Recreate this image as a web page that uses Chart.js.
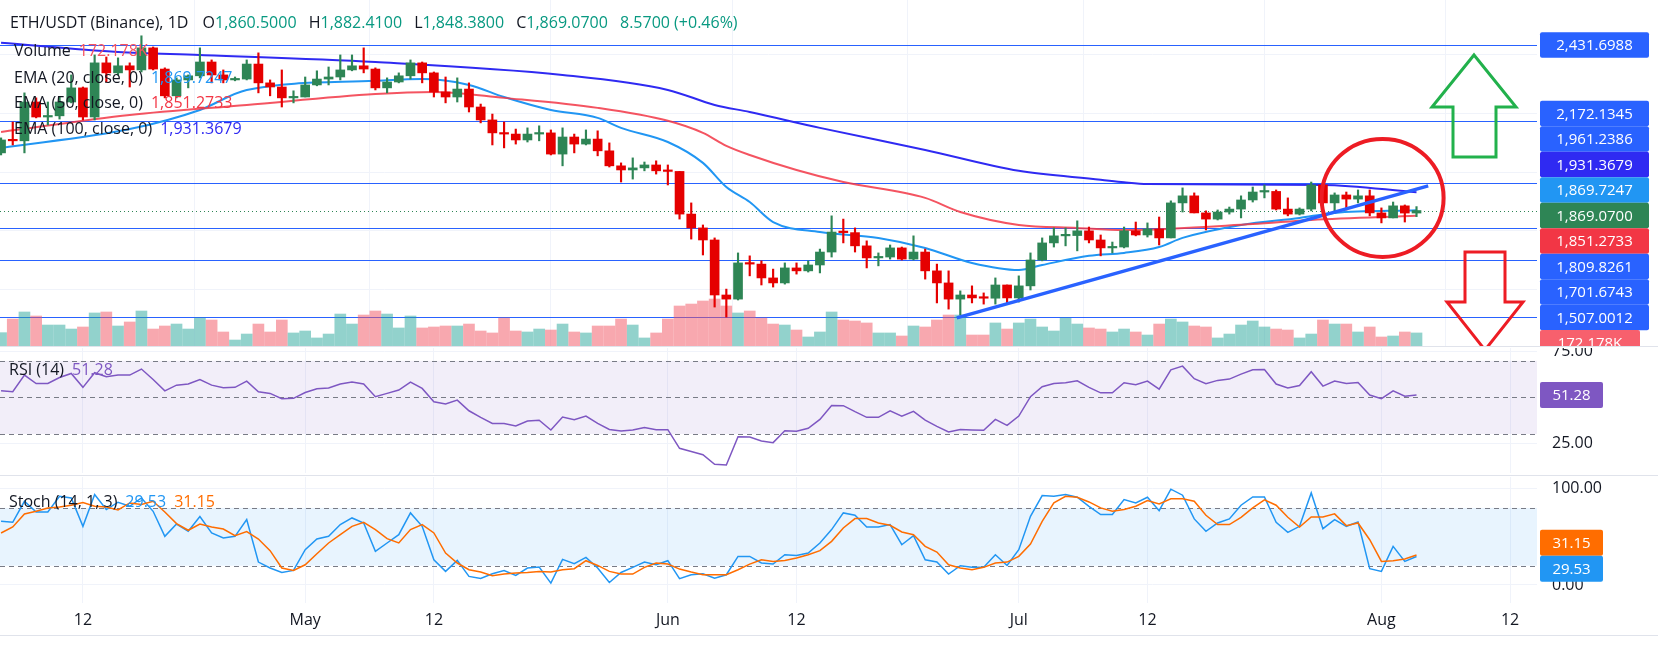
<!DOCTYPE html>
<html>
<head>
<meta charset="utf-8">
<script src="https://cdn.jsdelivr.net/npm/chart.js@4.4.0/dist/chart.umd.min.js"></script>
<style>
  body { margin: 0; background: #fff; }
  #wrap { position: relative; width: 1658px; height: 646px; overflow: hidden; font-family: 'Open Sans', sans-serif; }
  .pane { position: absolute; left: 0; width: 1658px; }
  .lg { position: absolute; left: 14px; font-size: 16px; line-height: 20px; color: #131722; white-space: nowrap; }
  .lg span { margin-left: 8px; }
  .sep { position: absolute; left: 0; width: 1658px; height: 1px; background: #e0e3eb; }
</style>
</head>
<body>
<div id="wrap">
  <div class="pane" style="top:0;height:346px"><canvas id="cPrice"></canvas></div>
  <div class="pane" style="top:348px;height:125px"><canvas id="cRsi"></canvas></div>
  <div class="pane" style="top:477px;height:169px"><canvas id="cStoch"></canvas></div>
  <div class="sep" style="top:346px"></div>
  <div class="sep" style="top:475px"></div>
  <div class="sep" style="top:635px"></div>

  <div class="lg" style="top:12px;left:10px">ETH/USDT (Binance), 1D
    <span style="margin-left:10px">O<b style="font-weight:normal;color:#089981">1,860.5000</b></span>
    <span>H<b style="font-weight:normal;color:#089981">1,882.4100</b></span>
    <span>L<b style="font-weight:normal;color:#089981">1,848.3800</b></span>
    <span>C<b style="font-weight:normal;color:#089981">1,869.0700</b></span>
    <span style="color:#089981">8.5700 (+0.46%)</span></div>
  <div class="lg" style="top:40px">Volume<span style="color:#f7525f">172.178K</span></div>
  <div class="lg" style="top:67px">EMA (20, close, 0)<span style="color:#2196f3">1,869.7247</span></div>
  <div class="lg" style="top:92px">EMA (50, close, 0)<span style="color:#f23645">1,851.2733</span></div>
  <div class="lg" style="top:118px">EMA (100, close, 0)<span style="color:#2f2af2">1,931.3679</span></div>
  <div class="lg" style="top:359px;left:9px">RSI (14)<span style="color:#7e57c2">51.28</span></div>
  <div class="lg" style="top:491px;left:9px">Stoch (14, 1, 3)<span style="color:#2196f3">29.53</span><span style="color:#ff6d00">31.15</span></div>
</div>
<script>
// ── data: day 0 = Apr 5, daily candles to Aug 4 ─────────────
const tickDays   = [7, 26, 37, 57, 68, 87, 98, 118, 129];
const tickLabels = ['12', 'May', '12', 'Jun', '12', 'Jul', '12', 'Aug', '12'];

const opens = [2065,2109,2106,2238,2187,2191,2238,2286,2187,2371,
  2337,2361,2347,2422,2350,2259,2313,2327,2374,2330,
  2313,2316,2367,2303,2289,2252,2255,2296,2316,2323,
  2347,2361,2350,2286,2306,2327,2371,2337,2272,2255,
  2282,2221,2177,2133,2129,2109,2129,2133,2061,2119,
  2095,2112,2072,2021,2007,2014,2024,2004,2002,1857,
  1810,1769,1582,1568,1691,1687,1640,1623,1674,1664,
  1684,1728,1796,1794,1749,1708,1711,1742,1704,1728,
  1664,1623,1568,1582,1572,1571,1616,1572,1613,1701,
  1759,1783,1784,1800,1769,1742,1745,1800,1786,1806,
  1776,1895,1919,1861,1840,1864,1874,1905,1932,1934,
  1874,1857,1874,1956,1895,1922,1908,1919,1861,1844,
  1885,1860.5];
const highs = [2116,2170,2269,2252,2238,2255,2330,2289,2398,2391,
  2388,2371,2463,2425,2354,2320,2330,2422,2381,2347,
  2323,2381,2405,2313,2347,2276,2323,2344,2357,2398,
  2398,2422,2354,2320,2337,2381,2374,2340,2323,2320,
  2303,2231,2197,2170,2146,2150,2157,2143,2150,2129,
  2143,2140,2099,2031,2048,2034,2038,2024,2002,1895,
  1820,1776,1602,1725,1715,1698,1670,1691,1691,1698,
  1738,1851,1840,1810,1766,1725,1752,1745,1783,1738,
  1687,1664,1596,1613,1589,1640,1616,1647,1725,1776,
  1810,1810,1834,1813,1786,1762,1813,1830,1827,1847,
  1902,1946,1929,1868,1871,1881,1919,1949,1956,1939,
  1912,1878,1966,1963,1929,1932,1939,1939,1878,1898,
  1888,1882.41];
const lows = [2058,2092,2065,2184,2160,2180,2235,2177,2177,2306,
  2330,2289,2340,2347,2252,2252,2286,2320,2303,2303,
  2310,2313,2269,2259,2221,2235,2255,2293,2296,2313,
  2344,2337,2279,2269,2303,2316,2303,2255,2235,2238,
  2204,2167,2092,2082,2095,2102,2106,2058,2021,2065,
  2092,2055,2017,1966,1976,2004,1993,1956,1840,1772,
  1718,1541,1507,1565,1647,1616,1609,1619,1653,1660,
  1657,1711,1759,1728,1674,1681,1704,1701,1701,1636,
  1555,1534,1514,1555,1551,1551,1551,1558,1599,1698,
  1745,1749,1732,1759,1715,1725,1742,1783,1779,1752,
  1776,1864,1861,1803,1837,1857,1844,1898,1912,1871,
  1851,1854,1868,1888,1861,1871,1895,1851,1827,1844,
  1830,1848.38];
const closes = [2109,2106,2238,2187,2191,2238,2286,2187,2371,2337,
  2361,2347,2422,2350,2259,2313,2327,2374,2330,2313,
  2316,2367,2303,2289,2252,2255,2296,2316,2323,2347,
  2361,2350,2286,2306,2327,2371,2337,2272,2255,2282,
  2221,2177,2133,2129,2109,2129,2133,2061,2119,2095,
  2112,2072,2021,2007,2014,2024,2004,2002,1857,1810,
  1769,1582,1568,1691,1687,1640,1623,1674,1664,1684,
  1728,1796,1794,1749,1708,1711,1742,1704,1728,1664,
  1623,1568,1582,1572,1571,1616,1572,1613,1701,1759,
  1783,1784,1800,1769,1742,1745,1800,1786,1806,1776,
  1895,1919,1861,1840,1864,1874,1905,1932,1934,1874,
  1857,1874,1956,1895,1922,1908,1919,1861,1844,1885,
  1860.5,1869.07];
// volume in thousands
const volume = [176,356,449,396,277,277,224,251,436,449,
  264,317,462,224,264,290,224,370,343,185,
  79,158,290,185,343,172,198,106,158,422,
  290,409,462,422,238,396,238,251,264,264,
  290,198,172,370,198,185,224,211,290,185,
  172,264,264,356,277,106,172,356,528,554,
  594,620,528,436,462,370,290,277,211,119,
  185,449,343,330,304,172,172,132,264,251,
  343,409,409,145,145,304,224,304,356,251,
  198,370,290,238,224,185,224,185,145,290,
  356,317,264,251,106,158,277,330,251,224,
  211,106,158,343,290,290,185,251,119,132,
  185,172.178];

// EMAs read at sparse days
const ema20Days = [0,11,17,21,32,36,40,43,47,51,53,57,60,62,64,66,70,75,79,83,87,89,93,96,99,101,106,111,114,121];
const ema20 = [2082,2146,2211,2279,2310,2316,2296,2255,2211,2184,2150,2102,2031,1949,1898,1830,1796,1776,1742,1691,1667,1684,1715,1725,1745,1776,1820,1844,1861,1869.7247];
const ema50Days = [0,11,21,32,37,43,51,57,60,62,64,68,72,79,82,87,92,96,107,112,121];
const ema50 = [2136,2194,2228,2265,2272,2252,2218,2174,2133,2089,2058,2007,1966,1912,1864,1820,1810,1803,1823,1837,1851.2733];
const ema100Days = [0,10,17,32,48,57,61,64,70,79,87,94,96,98,113,121];
const ema100 = [2439,2408,2398,2374,2330,2279,2228,2204,2150,2075,2004,1974,1965,1959,1956,1931.3679];

const trendDays = [81.7, 122];
const trendVals = [1504, 1953];
const levels = [2431.6988, 2172.1345, 1961.2386, 1809.8261, 1701.6743, 1507.0012];
const lastPrice = 1869.07;

const rsi = [53.6,53.1,62.2,57.6,57.6,60.9,63.1,55.5,63.5,61.3,
  62.2,62.2,65.5,59.8,53.6,56.7,57.3,59.8,56.7,55.3,
  55.5,58.9,53.1,52.2,49.3,49.5,52.7,54.7,55.1,57.3,
  58.4,57.3,50.4,52.2,54,58.4,54.9,47.6,46.4,48.5,
  42.7,39.1,35.8,35.8,34.4,37.1,37.5,32.2,39.3,37.8,
  39.8,35.8,32.5,31.6,32.2,33.6,32.4,32.4,22.2,20.4,
  18.7,13.5,13.1,28.5,28.4,26.2,25.3,31.8,31.5,33.1,
  38,45.6,45.5,42.2,39.1,39.1,42.7,39.8,42.4,37.6,
  34.2,31.1,32.5,32.2,32,38,34.7,39.8,50.4,55.8,
  57.6,58,59.1,55.5,52.5,52.5,58,56.9,58.9,54.5,
  65.1,67.1,60.2,57.5,59.3,60,62.7,65.1,65.3,57.3,
  55.1,56.5,64,56.2,58.9,57.6,58.2,51.3,49.3,53.6,
  50.7,51.28];
const stochK = [66.1,65.1,86.9,75.8,75.8,92.1,90.4,60.9,93.9,78.3,
  85.9,81.7,90.4,76.5,50.5,63.3,55.7,71,54,48.8,
  50.5,67.9,23.8,17.6,13,15.1,36.6,47.7,50.5,62.7,
  69.6,64.4,34.9,43.6,52.2,74.8,60.9,26.2,14.1,25.5,
  8.9,6.8,11.7,15.1,9.9,17.6,18.6,1.9,26.6,22.1,
  28.7,17.6,2.6,13,18.3,23.8,21,25.2,6.5,10.6,
  11.7,7.1,10.6,29.7,29.7,22.8,21.7,31.4,30.7,33.2,
  43.6,57.5,74.8,72.4,60.2,60.2,62.7,41.8,51.2,26.2,
  23.8,11.3,20,18.3,18.3,31.4,20.3,36.6,71.3,92.8,
  92.1,93.9,91.1,81.7,73.1,73.1,88.7,85.2,91.1,77.2,
  99.5,93.2,68.6,55.7,64.4,68.6,82.8,91.4,91.4,65.1,
  54.7,60.9,95.6,58.5,67.9,60.9,65.4,16.9,14.1,40.1,
  24.5,29.53];
const stochD = [54,60.2,73.8,76.5,80,81,82.8,85.6,81.7,81,
  77.9,85.2,83.5,86.9,75.8,63.7,56.8,63.3,60.2,58.1,
  51.2,55.4,47.7,35.6,17.6,15.1,21,32.5,43.6,52.2,
  60.9,65.1,57.5,48.1,43.6,57.5,62.7,54,33.2,22.8,
  15.8,13.4,9.6,11.3,12.4,13,14.1,13.4,15.8,16.9,
  25.2,20.3,14.1,11.3,11.3,18.3,22.8,21.7,16.5,13.4,
  10.6,10.6,10.6,15.8,21.7,26.2,24.5,25.5,28,31.4,
  35.6,45.3,59.2,68.9,68.9,64.4,62,55,52.2,40.1,
  34.2,21,17.6,15.8,18.3,22.8,23.8,29.7,42.5,66.1,
  85.2,92.1,91.1,86.2,80,76.5,78.3,81.7,87.6,84.2,
  89.4,89.4,86.9,72.4,62.7,62.7,70.3,80,88.3,82.8,
  70.3,60.2,70.6,70.6,73.8,61.6,64.4,47,24.5,25.2,
  26.9,31.15];

// ── helpers ─────────────────────────────────────────────
const FONT = "'Open Sans', sans-serif";
const UP = '#2e8555', DOWN = '#e50000';
const days = closes.map((_, i) => i);
const isUp = i => closes[i] >= opens[i];
const pts = (xs, ys) => xs.map((x, i) => ({ x, y: ys[i] }));

const xAxis = (showLabels) => ({
  type: 'linear', min: -0.09, max: 131.3, offset: false,
  grid: { color: '#f0f3fa', drawTicks: false }, border: { display: false },
  afterBuildTicks: s => { s.ticks = tickDays.map(v => ({ value: v })); },
  ticks: { display: showLabels, autoSkip: false, maxRotation: 0, padding: 8, color: '#131722',
           font: { size: 16, family: FONT }, callback: (v, i) => tickLabels[i] },
  afterFit: s => { s.height = showLabels ? 43 : 0; }
});
// right axis: labels are painted by the pane plugin so they don't pad the chart area
const yRight = (min, max, tickVals) => ({
  position: 'right', min, max,
  grid: { color: '#f0f3fa', drawTicks: false }, border: { display: false },
  afterBuildTicks: s => { s.ticks = tickVals.map(v => ({ value: v })); },
  ticks: { display: false },
  afterFit: s => { s.width = 121; }
});

function relax(items, h) {
  items.sort((a, b) => a.y - b.y);
  const cl = [];
  const top = c => c.sum / c.its.length - (c.its.length - 1) * h / 2;
  for (const it of items) {
    cl.push({ its: [it], sum: it.y });
    while (cl.length > 1) {
      const b = cl[cl.length - 1], a = cl[cl.length - 2];
      const aBot = top(a) + (a.its.length - 1) * h;
      if (top(b) < aBot + h) { a.its.push(...b.its); a.sum += b.sum; cl.pop(); } else break;
    }
  }
  cl.forEach(c => { const t = top(c); c.its.forEach((it, k) => it.py = t + k * h); });
  return items;
}
function drawBox(ctx, x, y, w, h, color, text) {
  ctx.fillStyle = color;
  ctx.beginPath();
  ctx.roundRect(x, y - h / 2, w, h, 2);
  ctx.fill();
  ctx.fillStyle = '#fff';
  ctx.font = '15px ' + FONT;
  ctx.textAlign = 'center';
  ctx.textBaseline = 'middle';
  ctx.fillText(text, x + w / 2, y + 1);
}
const fmt4 = v => v.toLocaleString('en-US', { minimumFractionDigits: 4, maximumFractionDigits: 4 });
function hLine(ctx, area, y, color, dash, width) {
  ctx.save();
  ctx.strokeStyle = color; ctx.lineWidth = width || 1; ctx.setLineDash(dash || []);
  ctx.beginPath(); ctx.moveTo(area.left, y); ctx.lineTo(area.right, y); ctx.stroke();
  ctx.restore();
}
const common = { responsive: true, maintainAspectRatio: false, animation: false, layout: { padding: 0 },
  plugins: { legend: { display: false }, tooltip: { enabled: false } } };

// ── price pane ──────────────────────────────────────────
const pricePlugin = {
  id: 'priceDeco',
  beforeDatasetsDraw(chart) {
    const { ctx, chartArea, scales: { y } } = chart;
    levels.forEach(v => hLine(ctx, chartArea, Math.round(y.getPixelForValue(v)) + 0.5, '#2962ff', [], 1.2));
    hLine(ctx, chartArea, Math.round(y.getPixelForValue(lastPrice)) + 0.5, UP, [1, 3], 1);
  },
  afterDatasetsDraw(chart) {
    const { ctx, scales: { x, y } } = chart;
    ctx.save();
    // circle around the last candles
    ctx.strokeStyle = '#ed1c24'; ctx.lineWidth = 4;
    ctx.beginPath();
    ctx.ellipse(x.getPixelForValue(118.1), y.getPixelForValue(1912), 61, 59, 0, 0, Math.PI * 2);
    ctx.stroke();
    // arrows
    const poly = (p, color) => {
      ctx.strokeStyle = color; ctx.lineWidth = 3; ctx.lineJoin = 'miter';
      ctx.beginPath(); p.forEach(([a, b], i) => i ? ctx.lineTo(a, b) : ctx.moveTo(a, b));
      ctx.closePath(); ctx.stroke();
    };
    poly([[1474, 55], [1516, 107], [1496, 107], [1496, 157], [1453, 157], [1453, 107], [1432, 107]], '#22b14c');
    poly([[1465, 252], [1505, 252], [1505, 302], [1523, 302], [1485, 350], [1447, 302], [1465, 302]], '#ed1c24');
    ctx.restore();
  },
  afterDraw(chart) {
    const { ctx, chartArea, scales: { y, vol } } = chart;
    const items = levels.map(v => ({ v, color: '#2962ff', text: fmt4(v) }));
    items.push({ v: ema100[ema100.length - 1], color: '#2f2af2', text: fmt4(ema100[ema100.length - 1]) });
    items.push({ v: ema20[ema20.length - 1], color: '#2196f3', text: fmt4(ema20[ema20.length - 1]) });
    items.push({ v: lastPrice, color: UP, text: fmt4(lastPrice) });
    items.push({ v: ema50[ema50.length - 1], color: '#f23645', text: fmt4(ema50[ema50.length - 1]) });
    items.forEach(it => it.y = y.getPixelForValue(it.v));
    relax(items, 25.5);
    const bx = chartArea.right + 3;
    items.forEach(it => drawBox(ctx, bx, it.py, 109, 25.5, it.color, it.text));
    const lastVol = volume[volume.length - 1];
    const vy = Math.max(vol.getPixelForValue(lastVol), Math.max(...items.map(i => i.py)) + 25);
    drawBox(ctx, bx, vy, 100, 25, '#f7606d', lastVol.toFixed(3) + 'K');
  }
};

new Chart(document.getElementById('cPrice'), {
  type: 'bar',
  data: {
    datasets: [
      { type: 'bar', yAxisID: 'vol', order: 10, barThickness: 11,
        data: pts(days, volume),
        backgroundColor: days.map(i => isUp(i) ? 'rgba(38,166,154,0.5)' : 'rgba(242,82,95,0.5)') },
      { type: 'line', order: 5, data: pts(ema100Days, ema100), borderColor: '#2f2af2', borderWidth: 2,
        pointRadius: 0, cubicInterpolationMode: 'monotone' },
      { type: 'line', order: 5, data: pts(ema50Days, ema50), borderColor: 'rgba(242,54,69,0.85)', borderWidth: 2,
        pointRadius: 0, cubicInterpolationMode: 'monotone' },
      { type: 'line', order: 5, data: pts(ema20Days, ema20), borderColor: '#2196f3', borderWidth: 2,
        pointRadius: 0, cubicInterpolationMode: 'monotone' },
      { type: 'bar', order: 2, barThickness: 1.5, grouped: false,
        data: days.map(i => ({ x: i, y: [lows[i], highs[i]] })),
        backgroundColor: days.map(i => isUp(i) ? UP : DOWN) },
      { type: 'bar', order: 1, barThickness: 9, grouped: false, minBarLength: 1.5,
        data: days.map(i => ({ x: i, y: [opens[i], closes[i]] })),
        backgroundColor: days.map(i => isUp(i) ? UP : DOWN) },
      { type: 'line', order: 0, data: pts(trendDays, trendVals), borderColor: '#2962ff', borderWidth: 3.5,
        pointRadius: 0 }
    ]
  },
  options: { ...common,
    scales: {
      x: xAxis(false),
      y: yRight(1408.6, 2584.7, [1600, 1800, 2000, 2200, 2400]),
      vol: { display: false, min: 0, max: 4567 }
    }
  },
  plugins: [pricePlugin]
});

// ── RSI / Stoch band helper ─────────────────────────────
const bandPlugin = (lo, hi, mids, fill, labels, boxes) => ({
  id: 'band',
  beforeDatasetsDraw(chart) {
    const { ctx, chartArea, scales: { y } } = chart;
    ctx.fillStyle = fill;
    ctx.fillRect(chartArea.left, y.getPixelForValue(hi), chartArea.width, y.getPixelForValue(lo) - y.getPixelForValue(hi));
    [hi, ...mids, lo].forEach(v => hLine(ctx, chartArea, Math.round(y.getPixelForValue(v)) + 0.5, '#787b86', [5, 4], 1));
  },
  afterDraw(chart) {
    const { ctx, chartArea, scales: { y } } = chart;
    ctx.fillStyle = '#131722';
    ctx.font = '16px ' + FONT;
    ctx.textAlign = 'left';
    ctx.textBaseline = 'middle';
    labels.forEach(v => ctx.fillText(v.toFixed(2), chartArea.right + 15, y.getPixelForValue(v)));
    const items = boxes.map(b => ({ ...b, y: y.getPixelForValue(b.v) }));
    relax(items, 26);
    items.forEach(it => drawBox(ctx, chartArea.right + 3, it.py, 63, 26, it.color, it.v.toFixed(2)));
  }
});

new Chart(document.getElementById('cRsi'), {
  type: 'line',
  data: { datasets: [
    { data: pts(days, rsi), borderColor: '#7e57c2', borderWidth: 1.5, pointRadius: 0 }
  ] },
  options: { ...common, scales: { x: xAxis(false), y: yRight(8.7, 77, [25, 75]) } },
  plugins: [bandPlugin(30, 70, [50], 'rgba(126,87,194,0.1)', [25, 75], [{ v: rsi[rsi.length - 1], color: '#7e57c2' }])]
});

// ── Stochastic pane ─────────────────────────────────────
new Chart(document.getElementById('cStoch'), {
  type: 'line',
  data: { datasets: [
    { data: pts(days, stochD), borderColor: '#ff6d00', borderWidth: 1.5, pointRadius: 0 },
    { data: pts(days, stochK), borderColor: '#2196f3', borderWidth: 1.5, pointRadius: 0 }
  ] },
  options: { ...common, scales: { x: xAxis(true), y: yRight(-18.7, 112.1, [0, 100]) } },
  plugins: [bandPlugin(20, 80, [], 'rgba(33,150,243,0.1)', [0, 100], [
    { v: stochD[stochD.length - 1], color: '#ff6d00' },
    { v: stochK[stochK.length - 1], color: '#2196f3' }
  ])]
});
</script>
</body>
</html>
